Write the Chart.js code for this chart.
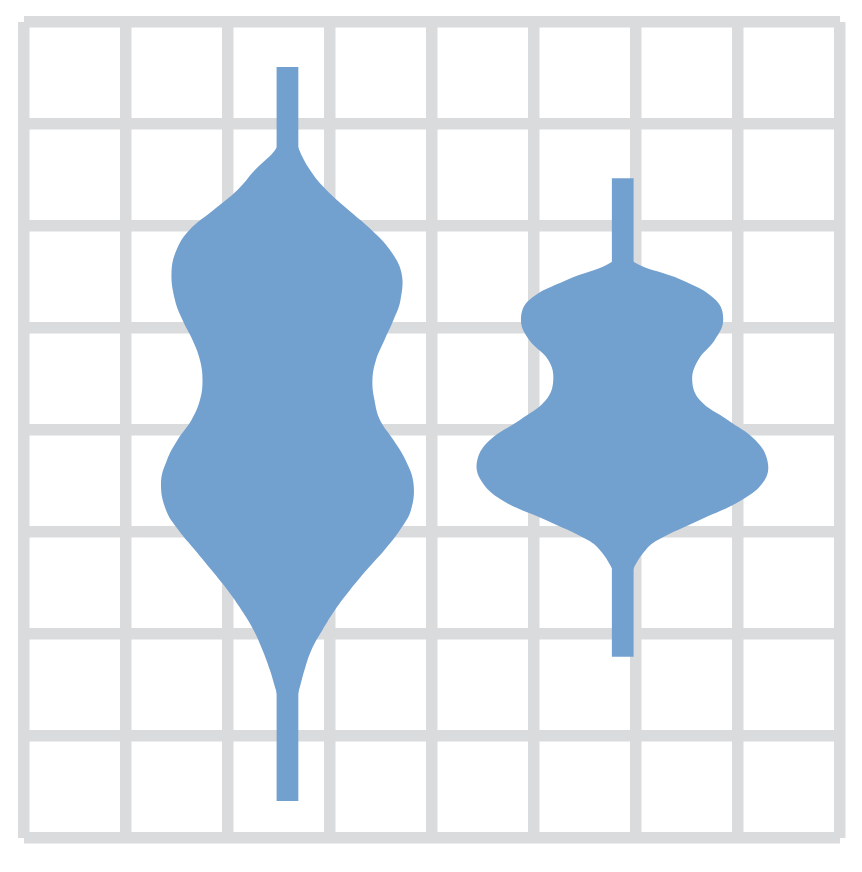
<!DOCTYPE html>
<html>
<head>
<meta charset="utf-8">
<script src="https://cdn.jsdelivr.net/npm/chart.js@4"></script>
<style>
  html, body { margin: 0; padding: 0; background: #ffffff; }
  #wrap { width: 862px; height: 872px; position: relative; }
</style>
</head>
<body>
<div id="wrap"><canvas id="c"></canvas></div>
<script>
// Violin positions (x, grid units) and whisker extents (y, grid units)
const violinCenters = [2.583, 5.870];
const whiskerLow  = [0.363, 1.777];
const whiskerHigh = [7.559, 6.468];
const whiskerWidth = 0.213;

// Violin 1 outline: y positions with left / right half-widths (grid units)
const violin1Y = [6.941, 6.765, 6.549, 6.353, 6.157, 5.961, 5.765, 5.539, 5.275, 5.078, 4.882, 4.686, 4.490, 4.294, 4.098, 3.902, 3.706, 3.480, 3.216, 3.020, 2.824, 2.627, 2.431, 2.235, 2.039, 1.843, 1.647, 1.451, 1.294];
const violin1Left  = [0.060, 0.108, 0.319, 0.490, 0.725, 0.961, 1.088, 1.137, 1.103, 1.029, 0.931, 0.858, 0.833, 0.858, 0.941, 1.078, 1.181, 1.240, 1.191, 1.069, 0.907, 0.745, 0.588, 0.451, 0.333, 0.245, 0.172, 0.113, 0.060];
const violin1Right = [0.060, 0.108, 0.221, 0.382, 0.598, 0.824, 1.005, 1.118, 1.108, 1.039, 0.951, 0.868, 0.833, 0.853, 0.907, 1.039, 1.157, 1.235, 1.211, 1.103, 0.951, 0.775, 0.613, 0.466, 0.343, 0.235, 0.167, 0.113, 0.060];

// Violin 2 outline
const violin2Y = [5.765, 5.647, 5.471, 5.275, 5.078, 4.882, 4.686, 4.490, 4.294, 4.098, 3.902, 3.706, 3.510, 3.314, 3.118, 2.922, 2.824, 2.647, 2.500];
const violin2Left  = [0.060, 0.108, 0.549, 0.917, 0.998, 0.917, 0.730, 0.681, 0.753, 1.008, 1.302, 1.426, 1.392, 1.186, 0.755, 0.343, 0.225, 0.108, 0.060];
const violin2Right = [0.060, 0.108, 0.578, 0.912, 0.985, 0.902, 0.740, 0.681, 0.755, 1.029, 1.299, 1.417, 1.392, 1.167, 0.755, 0.343, 0.225, 0.108, 0.060];

const gridTicks = [0, 1, 2, 3, 4, 5, 6, 7, 8];

const BLUE = '#72a0cf';
const GRID = '#dadbdd';

function outline(center, ys, left, right) {
  const pts = [];
  for (let i = 0; i < ys.length; i++) pts.push({x: center + right[i], y: ys[i]});
  for (let i = ys.length - 1; i >= 0; i--) pts.push({x: center - left[i], y: ys[i]});
  return pts;
}
function whiskerBox(i) {
  const c = violinCenters[i], h = whiskerWidth / 2;
  return [
    {x: c - h, y: whiskerLow[i]}, {x: c + h, y: whiskerLow[i]},
    {x: c + h, y: whiskerHigh[i]}, {x: c - h, y: whiskerHigh[i]}
  ];
}

const shapeStyle = {
  showLine: true, fill: 'shape', backgroundColor: BLUE, borderColor: BLUE,
  borderWidth: 0, pointRadius: 0, pointHoverRadius: 0
};

new Chart(document.getElementById('c'), {
  type: 'scatter',
  data: {
    datasets: [
      Object.assign({label: 'whisker1', data: whiskerBox(0), tension: 0}, shapeStyle),
      Object.assign({label: 'whisker2', data: whiskerBox(1), tension: 0}, shapeStyle),
      Object.assign({label: 'violin1', data: outline(violinCenters[0], violin1Y, violin1Left, violin1Right), tension: 0.4}, shapeStyle),
      Object.assign({label: 'violin2', data: outline(violinCenters[1], violin2Y, violin2Left, violin2Right), tension: 0.4}, shapeStyle)
    ]
  },
  options: {
    responsive: true,
    maintainAspectRatio: false,
    animation: false,
    events: [],
    layout: { padding: { left: 24, right: 22, top: 22, bottom: 34 } },
    plugins: { legend: { display: false }, tooltip: { enabled: false } },
    scales: {
      x: {
        type: 'linear', min: gridTicks[0], max: gridTicks[gridTicks.length - 1],
        afterBuildTicks: (s) => { s.ticks = gridTicks.map(v => ({value: v})); },
        ticks: { display: false },
        grid: { color: GRID, lineWidth: 11.5, drawTicks: false },
        border: { display: false }
      },
      y: {
        type: 'linear', min: gridTicks[0], max: gridTicks[gridTicks.length - 1],
        afterBuildTicks: (s) => { s.ticks = gridTicks.map(v => ({value: v})); },
        ticks: { display: false },
        grid: { color: GRID, lineWidth: 11.5, drawTicks: false },
        border: { display: false }
      }
    }
  }
});
</script>
</body>
</html>
